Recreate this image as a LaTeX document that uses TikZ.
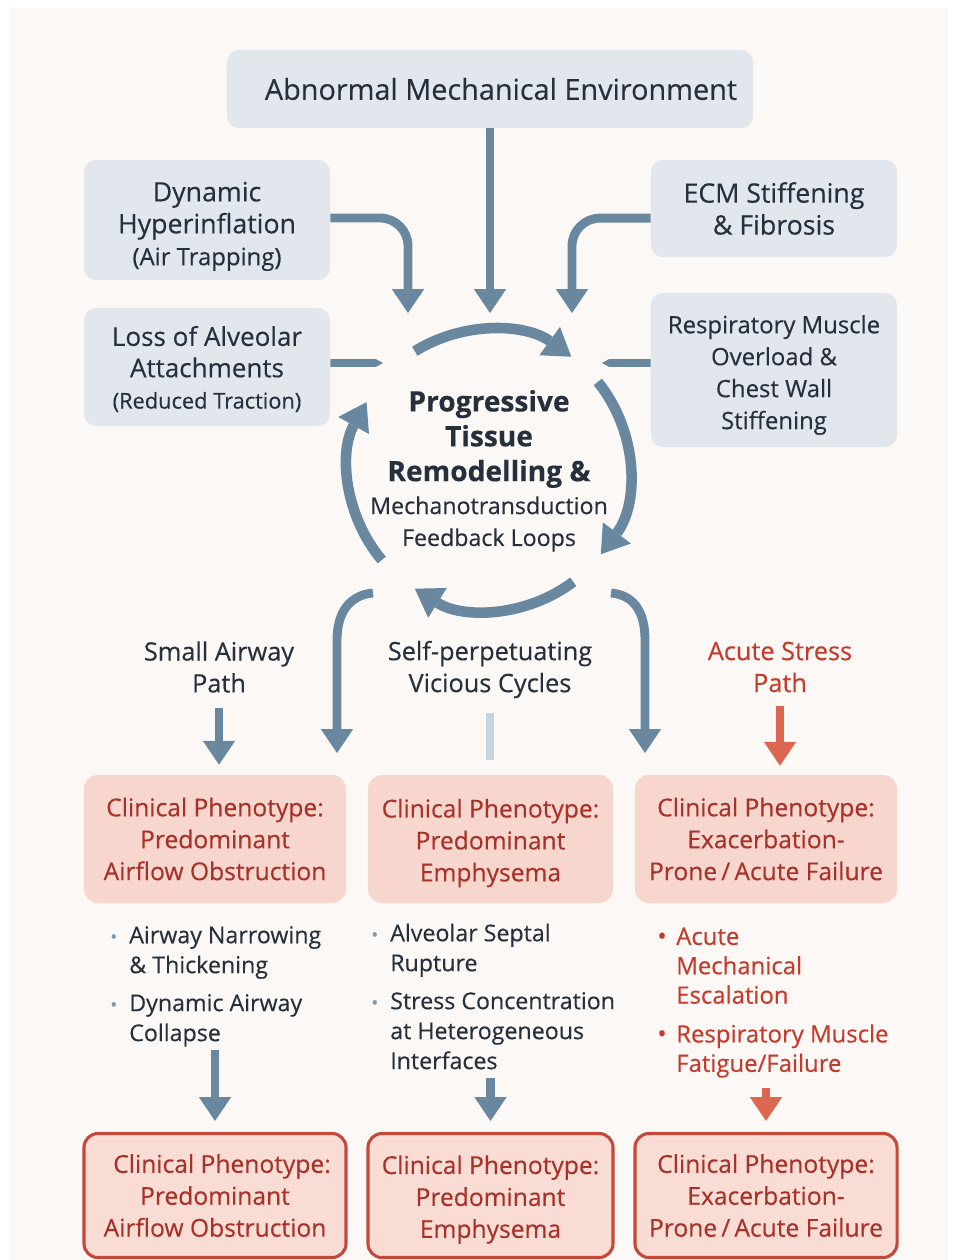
\documentclass[tikz,border=0pt]{standalone}
\usepackage{fontspec}
\setmainfont{Open Sans}[FakeBold=0.3]
\usepackage{tikz}
\usetikzlibrary{arrows.meta}

\definecolor{paper}{HTML}{FCF8F5}
\definecolor{boxblue}{HTML}{E1E7ED}
\definecolor{ink}{HTML}{26303D}
\definecolor{arrowblue}{HTML}{6A87A0}
\definecolor{dotblue}{HTML}{7D98B0}
\definecolor{lightbar}{HTML}{C6D5E2}
\definecolor{pinkA}{HTML}{F7D6CE}
\definecolor{pinkB}{HTML}{F9DCD4}
\definecolor{redline}{HTML}{C4493A}
\definecolor{redtext}{HTML}{A8322A}
\definecolor{redlabel}{HTML}{C63A2C}
\definecolor{redarrow}{HTML}{DC6651}

\newcommand{\bdot}[2]{\makebox[13.5pt][l]{\textcolor{#1}{\scalebox{#2}{\textbullet}}}}

\begin{document}
\begin{tikzpicture}[x=0.025cm,y=-0.025cm,
	bluebox/.style={fill=boxblue,rounded corners=0.3cm,text=ink,align=center,inner sep=0pt,minimum width=6.15cm},
	phen/.style={fill=pinkA,rounded corners=0.35cm,text=redtext,align=center,inner sep=0pt,minimum height=3.2cm,font=\fontsize{17.5}{22.7}\selectfont},
	phenb/.style={phen,fill=pinkB,draw=redline,line width=2.2pt,minimum height=3.1cm},
	flow/.style={draw=arrowblue,line width=6.3pt,-{Triangle[length=17pt,width=23pt,line width=0pt]}},
	flowred/.style={flow,draw=redarrow},
	cycarrow/.style={draw=arrowblue,line width=7.5pt,-{Triangle[length=19pt,width=25pt,line width=0pt]}},
	stub/.style={draw=arrowblue,line width=5.5pt,-{Triangle[length=5pt,width=5.5pt,line width=0pt]}},
	pathlabel/.style={align=center,inner sep=0pt,text=ink,font=\fontsize{18}{22.7}\selectfont},
	bullets/.style={anchor=north west,inner sep=0pt,text=ink,font=\fontsize{16.5}{21.3}\selectfont}]

	\useasboundingbox (0,0) rectangle (956,1260);
	\fill[white] (0,0) rectangle (956,1260);
	\fill[paper] (10,8) rectangle (948,1260);

	% inputs
	\node[bluebox,minimum width=13.15cm,minimum height=1.95cm,font=\fontsize{20.5}{24}\selectfont] (env) at (490,89) {\hspace*{15.6pt}Abnormal Mechanical Environment};
	\node[bluebox,minimum height=3cm,font=\fontsize{19}{22.7}\selectfont] (dyn) at (207,220) {\rule{0pt}{23pt}Dynamic\\Hyperinflation\\{\fontsize{17}{20}\selectfont(Air Trapping)}};
	\node[bluebox,minimum height=2.43cm,font=\fontsize{19}{22.7}\selectfont] (ecm) at (774,208.5) {ECM Stiffening\\\& Fibrosis};
	\node[bluebox,minimum height=2.95cm,font=\fontsize{18.5}{22.3}\selectfont] (loss) at (207,367) {\rule{0pt}{17pt}Loss of Alveolar\\Attachments\\{\fontsize{15.5}{20}\selectfont(Reduced Traction)}};
	\node[bluebox,minimum height=3.85cm,font=\fontsize{17}{22.7}\selectfont] (resp) at (774,370) {\rule{0pt}{20pt}Respiratory Muscle\\Overload \&\\Chest Wall\\Stiffening};

	\coordinate (in1) at (408,313);
	\coordinate (in2) at (490,313);
	\coordinate (in3) at (572,313);
	\draw[flow] (env.south) -- (in2);
	\draw[flow,rounded corners=0.7cm] ([yshift=0.05cm]dyn.east) -| (in1);
	\draw[flow,rounded corners=0.7cm] ([yshift=-0.24cm]ecm.west) -| (in3);

	\coordinate (stubL) at (383,363);
	\coordinate (stubR) at (602,363);
	\draw[stub] ([yshift=0.1cm]loss.east) -- (stubL);
	\draw[stub] ([yshift=0.175cm]resp.west) -- (stubR);

	% feedback loop
	\coordinate (ring) at (489,470);
	\node[text=ink,align=center,inner sep=0pt,font=\bfseries\fontsize{20}{24.8}\selectfont] (core) at (489,439) {Progressive\\Tissue\\Remodelling \&};
	\node[text=ink,align=center,inner sep=0pt,font=\fontsize{16.5}{22.7}\selectfont] (coresub) at (489,524) {Mechanotransduction\\Feedback Loops};
	\draw[cycarrow] ([shift={(238:140)}]ring) arc[start angle=238,end angle=306,radius=140];
	\draw[cycarrow] ([shift={(321:140)}]ring) arc[start angle=321,end angle=397,radius=140];
	\draw[cycarrow] ([shift={(53:140)}]ring) arc[start angle=53,end angle=122,radius=140];
	\draw[cycarrow] ([shift={(140:140)}]ring) arc[start angle=140,end angle=209,radius=140];

	\coordinate (oL) at (373,593);
	\coordinate (dL) at (337,753);
	\coordinate (oR) at (611,593);
	\coordinate (dR) at (645,753);
	\draw[flow] (oL) .. controls (350,595) and (337,612) .. (337,640) -- (dL);
	\draw[flow] (oR) .. controls (634,595) and (645,612) .. (645,640) -- (dR);

	% paths
	\node[pathlabel] (lab1) at (219,667) {Small Airway\\Path};
	\node[pathlabel] (lab2) at (490,669.5) {Self-perpetuating\\Vicious Cycles};
	\node[pathlabel,text=redlabel] (lab3) at (780,667) {Acute Stress\\Path};

	\node[phen,minimum width=6.55cm] (p1) at (215,839) {Clinical Phenotype:\\Predominant\\Airflow Obstruction};
	\node[phen,minimum width=6.125cm] (p2) at (490.5,839) {\rule{0pt}{19pt}Clinical Phenotype:\\Predominant\\Emphysema};
	\node[phen,minimum width=6.55cm] (p3) at (766,839) {Clinical Phenotype:\\Exacerbation-\\Prone\,/\,Acute Failure};

	\draw[flow,shorten <=0.375cm,shorten >=0.25cm] (lab1.south) -- (lab1.south |- p1.north);
	\draw[draw=lightbar,line width=6pt,shorten <=0.375cm,shorten >=0.375cm] (lab2.south) -- (lab2.south |- p2.north);
	\draw[flowred,shorten <=0.325cm,shorten >=0.225cm] (lab3.south) -- (lab3.south |- p3.north);

	% mechanisms
	\node[bullets] (b1) at (110,922) {\begin{tabular}{@{}l@{}l@{}}\bdot{dotblue}{0.8}&Airway Narrowing\\ &\& Thickening\\[5.7pt] \bdot{dotblue}{0.8}&Dynamic Airway\\ &Collapse\end{tabular}};
	\node[bullets] (b2) at (371,920) {\begin{tabular}{@{}l@{}l@{}}\bdot{dotblue}{0.8}&Alveolar Septal\\ &Rupture\\[5.7pt] \bdot{dotblue}{0.8}&Stress Concentration\\ &at Heterogeneous\\ &Interfaces\end{tabular}};
	\node[bullets,text=redlabel,font=\fontsize{17}{20.9}\selectfont] (b3) at (657,924) {\begin{tabular}{@{}l@{}l@{}}\bdot{redlabel}{1.05}&Acute\\ &Mechanical\\ &Escalation\\[6.7pt] \bdot{redlabel}{1.05}&Respiratory Muscle\\ &Fatigue/Failure\end{tabular}};

	\node[phenb,minimum width=6.55cm] (q1) at (215,1195.5) {\hspace*{10pt}Clinical Phenotype:\\Predominant\\Airflow Obstruction};
	\node[phenb,minimum width=6.125cm] (q2) at (490.5,1195.5) {\rule{0pt}{19pt}Clinical Phenotype:\\Predominant\\Emphysema};
	\node[phenb,minimum width=6.55cm] (q3) at (766,1195.5) {Clinical Phenotype:\\Exacerbation-\\Prone\,/\,Acute Failure};

	\draw[flow,shorten >=0.275cm] (q1.north |- b1.south) -- (q1.north);
	\draw[flow,shorten >=0.275cm] (q2.north |- b2.south) -- (q2.north);
	\draw[flowred,shorten <=0.175cm,shorten >=0.275cm] (q3.north |- b3.south) -- (q3.north);
\end{tikzpicture}
\end{document}
